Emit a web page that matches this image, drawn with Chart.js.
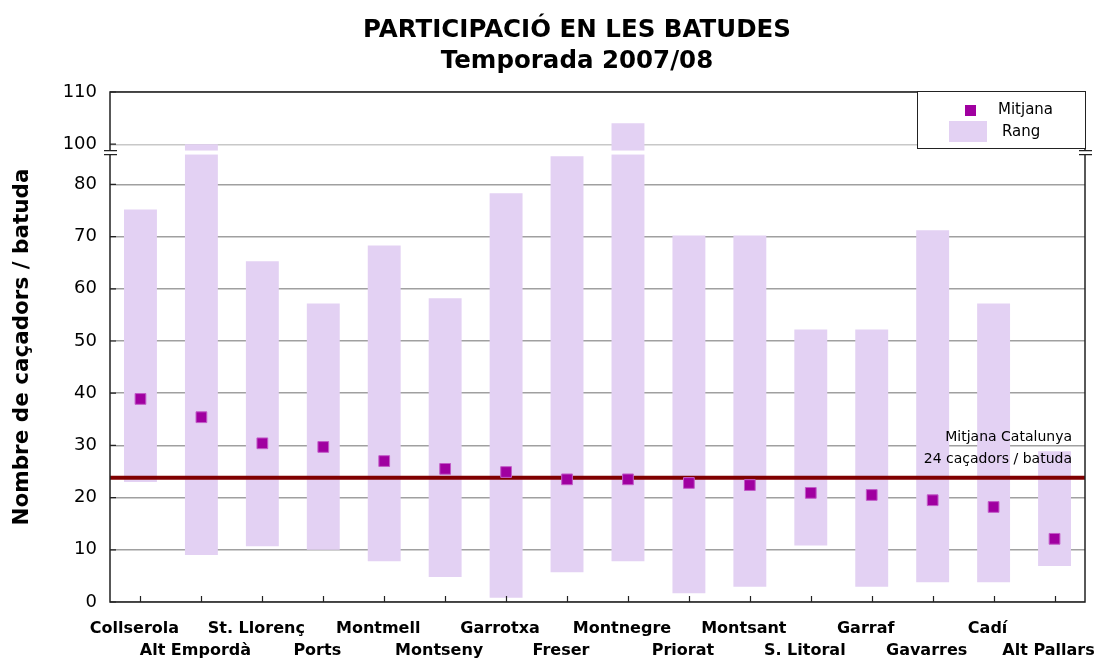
<!DOCTYPE html>
<html>
<head>
<meta charset="utf-8">
<script src="https://cdn.jsdelivr.net/npm/chart.js@4"></script>
<style>
  html, body { margin: 0; padding: 0; background: #fff; }
  #wrap { width: 1095px; height: 660px; }
</style>
</head>
<body>
<div id="wrap"><canvas id="chart"></canvas></div>
<script>
// Data
const areas = ['Collserola', 'Alt Empordà', 'St. Llorenç', 'Ports', 'Montmell', 'Montseny',
  'Garrotxa', 'Freser', 'Montnegre', 'Priorat', 'Montsant', 'S. Litoral', 'Garraf',
  'Gavarres', 'Cadí', 'Alt Pallars'];
const meanValues = [38.9, 35.4, 30.4, 29.7, 27.0, 25.5, 24.9, 23.5, 23.5, 22.8, 22.4, 20.9, 20.5, 19.5, 18.2, 12.1];
const rangeMin = [23.0, 9.0, 10.7, 10.0, 7.8, 4.8, 0.8, 5.7, 7.8, 1.7, 2.9, 10.8, 2.9, 3.8, 3.8, 6.9];
const rangeMax = [75.2, 100, 65.3, 57.2, 68.3, 58.2, 78.3, 85.4, 104, 70.2, 70.2, 52.2, 52.2, 71.2, 57.2, 28.9];
const catalunyaMean = 23.8;
const yTickValues = [0, 10, 20, 30, 40, 50, 60, 70, 80, 100, 110];

// broken axis: everything above the break is shifted down
const breakAt = 90;
const breakShift = 12.3;
const toAxis = v => (v > breakAt ? v - breakShift : v);
const gapValue = 86.1; // where the white break gap crosses the bars

const FONT = 'DejaVu Sans';

const extras = {
  id: 'extras',
  beforeDatasetDraw(chart, args) {
    if (args.index !== 1) return;
    const { ctx, chartArea: a, scales: { y } } = chart;
    ctx.save();
    // white gap across the bars at the axis break
    const gy = y.getPixelForValue(gapValue);
    ctx.fillStyle = '#fff';
    ctx.fillRect(a.left + 1, gy - 2, a.right - a.left - 2, 4);
    // Catalunya mean line
    const my = y.getPixelForValue(catalunyaMean);
    ctx.strokeStyle = '#800000';
    ctx.lineWidth = 4;
    ctx.beginPath();
    ctx.moveTo(a.left, my);
    ctx.lineTo(a.right, my);
    ctx.stroke();
    ctx.restore();
  },
  afterDraw(chart) {
    const { ctx, chartArea: a, scales: { x, y } } = chart;
    ctx.save();
    // frame
    ctx.strokeStyle = '#222';
    ctx.lineWidth = 1.5;
    ctx.strokeRect(a.left, a.top, a.right - a.left, a.bottom - a.top);
    // inward tick marks
    ctx.lineWidth = 1.2;
    ctx.beginPath();
    x.ticks.forEach((t, i) => {
      const px = Math.round(x.getPixelForTick(i)) + 0.5;
      ctx.moveTo(px, a.bottom);
      ctx.lineTo(px, a.bottom - 6);
    });
    y.ticks.forEach((t, i) => {
      const py = y.getPixelForTick(i);
      ctx.moveTo(a.left, py);
      ctx.lineTo(a.left + 6, py);
    });
    ctx.stroke();
    // title
    ctx.fillStyle = '#000';
    ctx.textAlign = 'center';
    ctx.textBaseline = 'middle';
    ctx.font = 'bold 24.5px "' + FONT + '"';
    ctx.fillText('PARTICIPACIÓ EN LES BATUDES', 577, 31);
    ctx.fillText('Temporada 2007/08', 577, 62);
    // annotation
    ctx.textAlign = 'right';
    ctx.font = '14px "' + FONT + '"';
    ctx.fillText('Mitjana Catalunya', 1072, 437);
    ctx.fillText('24 caçadors / batuda', 1072, 459);
    // legend
    ctx.fillStyle = '#fff';
    ctx.fillRect(917, 91, 168, 57);
    ctx.strokeStyle = '#222';
    ctx.lineWidth = 1;
    ctx.strokeRect(917.5, 91.5, 168, 57);
    ctx.fillStyle = '#a000a0';
    ctx.fillRect(965, 105, 11, 11);
    ctx.fillStyle = '#e3d1f3';
    ctx.fillRect(949, 121, 38, 21);
    ctx.fillStyle = '#000';
    ctx.textAlign = 'left';
    ctx.font = '15px "' + FONT + '"';
    ctx.fillText('Mitjana', 998, 110);
    ctx.fillText('Rang', 1002, 132);
    // axis break marks
    const gy = y.getPixelForValue(gapValue);
    ctx.strokeStyle = '#222';
    ctx.lineWidth = 1.2;
    [a.left, a.right].forEach(px => {
      ctx.fillStyle = '#fff';
      ctx.fillRect(px - 6, gy - 2, 12, 4);
      ctx.beginPath();
      ctx.moveTo(px - 6, gy - 2); ctx.lineTo(px + 7, gy - 2);
      ctx.moveTo(px - 6, gy + 2); ctx.lineTo(px + 7, gy + 2);
      ctx.stroke();
    });
    ctx.restore();
  }
};

new Chart(document.getElementById('chart'), {
  type: 'bar',
  data: {
    labels: areas.map((n, i) => (i % 2 === 0 ? [n, ''] : ['', n])),
    datasets: [{
      label: 'Rang',
      data: rangeMin.map((lo, i) => [toAxis(lo), toAxis(rangeMax[i])]),
      backgroundColor: '#e3d1f3',
      borderWidth: 0,
      categoryPercentage: 1,
      barPercentage: 0.54,
      order: 1
    }, {
      label: 'Mitjana',
      type: 'line',
      data: meanValues.map(toAxis),
      showLine: false,
      pointStyle: 'rect',
      pointRadius: 7.6,
      pointBackgroundColor: '#a000a0',
      pointBorderColor: '#c25cc8',
      pointBorderWidth: 1,
      order: 0
    }]
  },
  options: {
    responsive: true,
    maintainAspectRatio: false,
    animation: false,
    layout: { padding: { top: 92, right: 10, left: 0, bottom: 0 } },
    plugins: {
      legend: { display: false },
      tooltip: { enabled: false },
      title: { display: false }
    },
    scales: {
      x: {
        grid: { display: false, drawTicks: false },
        border: { display: false },
        afterFit: s => { s.height = 58; s.paddingLeft = 0; s.paddingRight = 0; },
        ticks: {
          color: '#000',
          font: { family: FONT, size: 16, weight: 'bold', lineHeight: 1.375 },
          padding: 16,
          labelOffset: -6,
          maxRotation: 0,
          autoSkip: false
        }
      },
      y: {
        min: 0,
        max: toAxis(110),
        afterFit: s => { s.width = 110; s.paddingTop = 0; s.paddingBottom = 0; },
        afterBuildTicks: s => { s.ticks = yTickValues.map(v => ({ value: toAxis(v) })); },
        border: { display: false },
        grid: {
          drawTicks: false,
          lineWidth: 1.4,
          color: c => (c.tick && c.tick.value === toAxis(100) ? '#c8c8c8' : '#a0a0a0')
        },
        ticks: {
          color: '#000',
          font: { family: FONT, size: 18 },
          padding: 13,
          callback: (v, i) => yTickValues[i]
        },
        title: {
          display: true,
          text: 'Nombre de caçadors / batuda',
          color: '#000',
          font: { family: FONT, size: 21.5, weight: 'bold' },
          padding: { top: 10, bottom: 0 }
        }
      }
    }
  },
  plugins: [extras]
});
</script>
</body>
</html>
